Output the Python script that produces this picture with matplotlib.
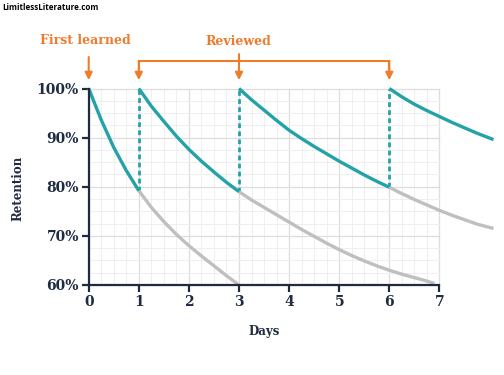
import numpy as np
import matplotlib
matplotlib.use("Agg")
import matplotlib.pyplot as plt

# ---- data ----
teal1_x = [0, 0.25, 0.5, 0.75, 1]
teal1_y = [100, 93.6, 88.0, 83.3, 79.2]
grey1_x = [1, 1.25, 1.5, 1.75, 2, 2.25, 2.5, 2.75, 3]
grey1_y = [79.2, 75.8, 72.9, 70.3, 68.0, 65.9, 63.9, 61.9, 60.0]
teal2_x = [1, 1.25, 1.5, 1.75, 2, 2.25, 2.5, 2.75, 3]
teal2_y = [100, 96.4, 93.3, 90.3, 87.6, 85.2, 83.0, 80.9, 79.0]
grey2_x = [3, 3.25, 3.5, 3.75, 4, 4.25, 4.5, 4.75, 5, 5.25, 5.5, 5.75, 6, 6.25, 6.5, 6.75, 6.9]
grey2_y = [79.0, 77.3, 75.8, 74.3, 72.8, 71.3, 69.9, 68.5, 67.2, 66.0, 64.9, 63.9, 63.0, 62.2, 61.5, 60.8, 60.3]
teal3_x = [3, 3.25, 3.5, 3.75, 4, 4.25, 4.5, 4.75, 5, 5.25, 5.5, 5.75, 6]
teal3_y = [100, 97.7, 95.6, 93.5, 91.5, 89.8, 88.2, 86.7, 85.2, 83.8, 82.4, 81.1, 79.9]
grey3_x = [6, 6.25, 6.5, 6.75, 7, 7.25, 7.5, 7.75, 8.08]
grey3_y = [79.9, 78.6, 77.4, 76.3, 75.2, 74.2, 73.3, 72.4, 71.5]
teal4_x = [6, 6.25, 6.5, 6.75, 7, 7.25, 7.5, 7.75, 8.08]
teal4_y = [100, 98.3, 96.8, 95.5, 94.3, 93.1, 92.0, 90.9, 89.6]

review_days = [1, 3, 6]
review_low = [79.2, 79.0, 79.9]
first_day = 0

x_ticks = [0, 1, 2, 3, 4, 5, 6, 7]
y_ticks = [60, 70, 80, 90, 100]
y_labels = ["60%", "70%", "80%", "90%", "100%"]

TEAL = "#23a2a8"
GREY = "#bfbfbf"
NAVY = "#1f2b40"
ORANGE = "#ef7b2c"
SERIF = "DejaVu Serif"

W, H = 504, 375
fig = plt.figure(figsize=(W / 100, H / 100), dpi=100)
ppd = 50.1      # px per day
ppp = 4.9125    # px per percent
x0, x1 = -0.2, 8.2
y0, y1 = 59.0, 101.0
left_px = 88.7 + x0 * ppd
bottom_px = 375 - (285 + (60 - y0) * ppp)
ax = fig.add_axes([left_px / W, bottom_px / H, (x1 - x0) * ppd / W, (y1 - y0) * ppp / H])
ax.set_xlim(x0, x1)
ax.set_ylim(y0, y1)
ax.patch.set_alpha(0)

# grid limited to [0,7] x [60,100]
for gx in np.arange(0, 7.001, 0.25):
    major = abs(gx - round(gx)) < 1e-9
    ax.plot([gx, gx], [60, 100], color="#dddddd" if major else "#efefef",
            lw=0.9 if major else 0.7, zorder=0)
for gy in np.arange(60, 100.001, 2.5):
    major = abs(gy % 10) < 1e-9
    ax.plot([0, 7], [gy, gy], color="#dddddd" if major else "#efefef",
            lw=0.9 if major else 0.7, zorder=0)

# dashed review lines
for d, lo in zip(review_days, review_low):
    ax.plot([d, d], [lo, 100], color=TEAL, lw=2.0, ls=(0, (1.7, 1.2)), zorder=2)

# curves
lw = 2.4
for gx, gy in [(grey1_x, grey1_y), (grey2_x, grey2_y), (grey3_x, grey3_y)]:
    ax.plot(gx, gy, color=GREY, lw=lw, solid_capstyle="butt", zorder=3, clip_on=False)
for tx, ty in [(teal1_x, teal1_y), (teal2_x, teal2_y), (teal3_x, teal3_y), (teal4_x, teal4_y)]:
    ax.plot(tx, ty, color=TEAL, lw=lw, solid_capstyle="butt", zorder=4, clip_on=False)

# spines
for s in ["top", "right"]:
    ax.spines[s].set_visible(False)
ax.spines["left"].set_position(("data", 0))
ax.spines["bottom"].set_position(("data", 60))
ax.spines["left"].set_bounds(60, 100)
ax.spines["bottom"].set_bounds(0, 7)
for s in ["left", "bottom"]:
    ax.spines[s].set_color(NAVY)
    ax.spines[s].set_linewidth(1.6)
    ax.spines[s].set_zorder(5)

ax.set_xticks(x_ticks)
ax.set_xticklabels([str(t) for t in x_ticks])
ax.set_yticks(y_ticks)
ax.set_yticklabels(y_labels)
ax.tick_params(axis="both", length=5, width=1.6, color=NAVY, direction="out",
               labelcolor=NAVY, labelsize=10, pad=2)
for lab in ax.get_xticklabels() + ax.get_yticklabels():
    lab.set_fontfamily(SERIF)
    lab.set_fontweight("bold")

fig.text(264 / W, 1 - 332 / H, "Days", ha="center", va="center", color=NAVY,
         fontsize=8.5, fontweight="bold", family=SERIF)
fig.text(18 / W, 1 - 188 / H, "Retention", ha="center", va="center", rotation=90,
         color=NAVY, fontsize=8.5, fontweight="bold", family=SERIF)

# annotations
tip = 101.7
bar = 105.6
arrow_kw = dict(arrowstyle="-|>", mutation_scale=11, lw=1.5, color=ORANGE,
                shrinkA=0, shrinkB=0)
ax.annotate("", xy=(first_day, tip), xytext=(first_day, 106.4),
            arrowprops=arrow_kw, annotation_clip=False)
ax.text(-0.07, 109.8, "First learned", ha="center", va="center", color=ORANGE,
        fontsize=9, fontweight="bold", family=SERIF, clip_on=False)
ax.plot([review_days[0], review_days[0], review_days[-1], review_days[-1]],
        [tip + 2, bar, bar, tip + 2], color=ORANGE, lw=1.5, clip_on=False,
        solid_joinstyle="miter")
for d in [review_days[0], review_days[-1]]:
    ax.annotate("", xy=(d, tip), xytext=(d, bar),
                arrowprops=arrow_kw, annotation_clip=False)
ax.annotate("", xy=(review_days[1], tip), xytext=(review_days[1], 107.0),
            arrowprops=arrow_kw, annotation_clip=False)
ax.text(2.98, 109.6, "Reviewed", ha="center", va="center", color=ORANGE,
        fontsize=9, fontweight="bold", family=SERIF, clip_on=False)

fig.text(2 / W, 1 - 8 / H, "LimitlessLiterature.com", ha="left", va="center",
         color="black", fontsize=5.8, fontweight="bold", family="Open Sans")

fig.savefig("out.png", dpi=100)
